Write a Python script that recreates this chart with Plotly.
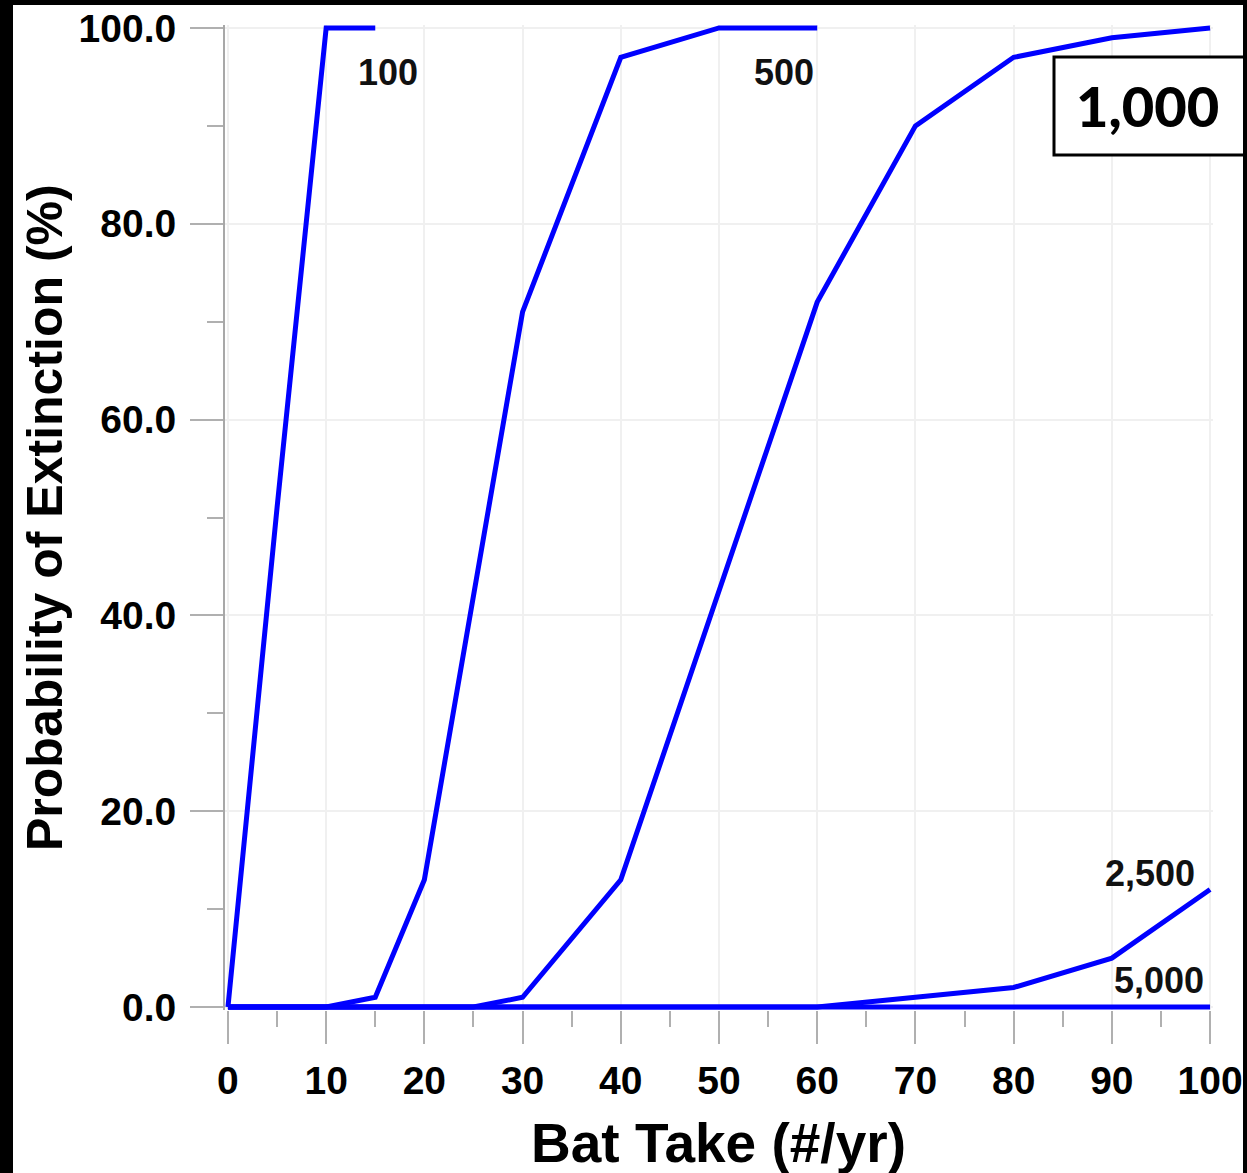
import plotly.graph_objects as go

# ---- data ----
take_100 = [0, 5, 10, 15]
ext_100 = [0, 51, 100, 100]

take_500 = [0, 10, 15, 20, 30, 40, 50, 60]
ext_500 = [0, 0, 1, 13, 71, 97, 100, 100]

take_1000 = [0, 25, 30, 40, 60, 70, 80, 90, 100]
ext_1000 = [0, 0, 1, 13, 72, 90, 97, 99, 100]

take_2500 = [0, 60, 70, 80, 90, 100]
ext_2500 = [0, 0, 1, 2, 5, 12]

take_5000 = [0, 100]
ext_5000 = [0, 0]

series = [
    ("100", take_100, ext_100),
    ("500", take_500, ext_500),
    ("1,000", take_1000, ext_1000),
    ("2,500", take_2500, ext_2500),
    ("5,000", take_5000, ext_5000),
]

# ---- layout geometry (pixels) ----
FW, FH = 1247, 1173
L, R, T, B = 225, 1213, 25, 1010
PW, PH = R - L, B - T


def px(xp):
    return (xp - L) / PW


def py(yp):
    return 1 - (yp - T) / PH


fig = go.Figure()
for name, xs, ys in series:
    fig.add_trace(go.Scatter(x=xs, y=ys, mode="lines", name=name,
                             line=dict(color="#0000FF", width=5),
                             showlegend=False))

tickfont = dict(family="Liberation Sans", size=39, color="black", weight="bold")
grid_c = "#F0F0F0"
tick_c = "#B0B0B0"

fig.update_xaxes(range=[-0.3, 100.3], tickvals=list(range(0, 101, 10)),
                 automargin=False,
                 ticks="outside", ticklen=33, tickwidth=2, tickcolor=tick_c,
                 showgrid=True, gridcolor=grid_c, gridwidth=2, zeroline=False,
                 showline=False, tickfont=tickfont, ticklabelstandoff=3,
                 minor=dict(tickvals=list(range(5, 100, 10)), ticks="outside",
                            ticklen=16, tickwidth=2, tickcolor=tick_c, showgrid=False))
fig.update_yaxes(range=[-0.3, 100.3], tickvals=list(range(0, 101, 20)),
                 automargin=False,
                 tickformat=".1f",
                 ticks="outside", ticklen=33, tickwidth=2, tickcolor=tick_c,
                 showgrid=True, gridcolor=grid_c, gridwidth=2, zeroline=False,
                 showline=True, linecolor="#A8A8A8", linewidth=2,
                 tickfont=tickfont, ticklabelstandoff=6,
                 minor=dict(tickvals=list(range(10, 100, 20)), ticks="outside",
                            ticklen=16, tickwidth=2, tickcolor=tick_c, showgrid=False))

lab_font = dict(family="Liberation Sans", size=36, color="#111111", weight="bold")
annos = [
    dict(x=16.3, y=95.4, text="100"),
    dict(x=56.6, y=95.4, text="500"),
    dict(x=93.9, y=13.6, text="2,500"),
    dict(x=94.8, y=2.7, text="5,000"),
]
for a in annos:
    fig.add_annotation(x=a["x"], y=a["y"], xref="x", yref="y", text=a["text"],
                       xanchor="center", yanchor="middle",
                       showarrow=False, font=lab_font)

# axis titles
fig.add_annotation(x=px(718), y=py(1143), xref="paper", yref="paper",
                   xanchor="center", yanchor="middle",
                   text="Bat Take (#/yr)", showarrow=False,
                   font=dict(family="Liberation Sans", size=55, color="black", weight="bold"))
fig.add_annotation(x=px(45), y=py(518), xref="paper", yref="paper",
                   xanchor="center", yanchor="middle",
                   text="Probability of Extinction (%)", showarrow=False, textangle=-90,
                   font=dict(family="Liberation Sans", size=50, color="black", weight="bold"))

# boxed label 1,000
fig.add_shape(type="rect", xref="paper", yref="paper",
              x0=px(1054), x1=px(1250), y0=py(155), y1=py(57),
              fillcolor="white", line=dict(color="black", width=3), layer="above")
fig.add_annotation(x=px(1147), y=py(106), xref="paper", yref="paper",
                   xanchor="center", yanchor="middle",
                   text="1,000", showarrow=False,
                   font=dict(family="Lato", size=56, color="black", weight=900))

# black frame strips
for x0, x1, y0, y1 in [(0, FW, 0, 5), (0, 13, 0, FH), (1243, FW, 0, FH)]:
    fig.add_shape(type="rect", xref="paper", yref="paper",
                  x0=px(x0), x1=px(x1), y0=py(y1), y1=py(y0),
                  fillcolor="black", line=dict(width=0), layer="above")

fig.update_layout(width=FW, height=FH, autosize=False,
                  margin=dict(l=L, r=FW - R, t=T, b=FH - B, pad=0, autoexpand=False),
                  paper_bgcolor="white", plot_bgcolor="white")

fig.write_html("out.html")
